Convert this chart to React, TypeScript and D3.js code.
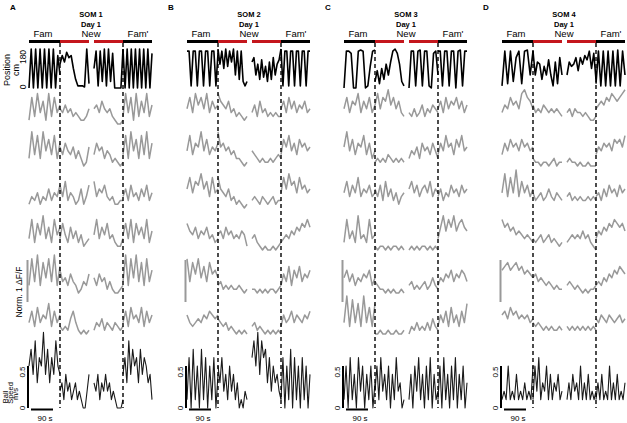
import React from 'react'
import * as d3 from 'd3'

// each trace = [Fam, New (1st half), New (2nd half), Fam']
// position in cm, speed in 0.1 m/s, dF/F in 0.1 norm. units

const posA = [
  [0, 180, 0, 180, 0, 180, 0, 180, 0, 180, 0, 180, 0, 150, 60],
  [110, 150, 120, 165, 140, 150, 90, 40, 10, 10, 10, 5, 180, 20],
  [90, 170, 10, 170, 30, 180, 10, 180, 30, 160, 0, 0, 0, 0, 180],
  [180, 0, 180, 0, 180, 0, 180, 0, 180, 0, 180, 0, 180, 0, 160],
]
const posB = [
  [170, 170, 10, 170, 170, 10, 170, 170, 10, 170, 170, 10, 170, 170, 10, 160],
  [180, 110, 170, 90, 180, 100, 170, 120, 180, 60, 170, 40, 170, 30, 10, 30],
  [120, 140, 60, 110, 40, 130, 50, 100, 30, 120, 40, 140, 60, 110, 130, 180],
  [180, 10, 170, 170, 10, 170, 170, 10, 170, 170, 10, 170, 170, 10, 170, 170],
]
const posC = [
  [0, 170, 170, 160, 0, 0, 170, 175, 170, 0, 10, 100, 170, 175],
  [30, 80, 20, 90, 40, 110, 60, 120, 170, 180, 160, 110, 30, 10],
  [0, 170, 170, 10, 170, 175, 10, 170, 170, 10, 0, 160, 170, 60],
  [170, 170, 10, 170, 170, 10, 170, 170, 0, 170, 175, 10, 170, 170],
]
const posD = [
  [10, 170, 20, 170, 30, 140, 170, 20, 170, 175, 60, 170],
  [170, 60, 120, 110, 40, 100, 60, 130, 60, 10, 120, 20, 140, 60],
  [60, 120, 100, 110, 140, 80, 140, 110, 150, 130, 170, 90, 160, 40],
  [20, 170, 10, 170, 10, 170, 10, 170, 10, 175, 10, 170, 60],
]

const dffA = [
  [[1, 7, 2, 8, 3, 6, 1, 8, 2, 7, 3, 5], [4, 3, 5, 3, 4, 2, 3, 2, 1, 1, 2, 4], [4, 5, 3, 6, 4, 3, 4, 2, 1, 0, 0, 1], [2, 8, 3, 7, 1, 8, 2, 6, 3, 8, 2, 5]],
  [[2, 9, 3, 8, 2, 9, 4, 7, 3, 8, 2, 6], [5, 3, 6, 4, 3, 5, 2, 4, 2, 0, 1, 5], [3, 6, 4, 5, 2, 4, 3, 1, 2, 1, 0, 1], [3, 8, 2, 9, 4, 7, 2, 8, 3, 9, 2, 6]],
  [[1, 3, 2, 4, 1, 3, 2, 5, 2, 4, 3, 6], [6, 3, 7, 2, 4, 3, 1, 2, 5, 1, 3, 6], [7, 3, 5, 4, 6, 3, 2, 3, 1, 1, 2, 2], [3, 5, 2, 6, 3, 4, 2, 5, 3, 6, 2, 4]],
  [[3, 8, 2, 7, 4, 9, 3, 6, 2, 8, 4, 6], [3, 7, 4, 2, 6, 3, 5, 2, 4, 1, 2, 3], [4, 8, 3, 6, 4, 7, 3, 4, 2, 1, 1, 3], [4, 7, 3, 8, 2, 7, 4, 6, 3, 8, 2, 5]],
  [[2, 9, 3, 10, 2, 8, 4, 9, 3, 10, 2, 7], [6, 3, 4, 2, 5, 3, 2, 0, 1, 3, 2, 5], [4, 2, 5, 3, 4, 1, 3, 1, 0, 0, 1, 2], [3, 10, 2, 9, 4, 10, 3, 8, 2, 9, 3, 6]],
  [[3, 6, 2, 7, 3, 5, 4, 8, 2, 6, 3, 5], [2, 1, 2, 1, 4, 6, 3, 1, 0, 1, 0, 1], [1, 3, 2, 4, 1, 3, 2, 1, 3, 2, 1, 2], [3, 6, 2, 7, 4, 5, 3, 7, 2, 6, 3, 5]],
]
const dffB = [
  [[4, 7, 3, 8, 5, 7, 4, 8, 3, 6, 4, 5], [8, 6, 5, 4, 6, 3, 4, 2, 3, 2, 1, 2], [3, 5, 2, 6, 3, 4, 2, 3, 2, 3, 2, 2], [4, 6, 3, 7, 4, 6, 3, 5, 4, 6, 3, 4]],
  [[4, 8, 3, 6, 5, 9, 4, 7, 3, 5, 4, 6], [9, 5, 6, 4, 5, 3, 4, 2, 2, 1, 0, 1], [4, 3, 2, 1, 2, 1, 1, 2, 1, 2, 3, 2], [3, 7, 5, 8, 4, 6, 3, 7, 5, 6, 4, 5]],
  [[5, 8, 4, 7, 6, 9, 5, 7, 3, 8, 4, 5], [8, 5, 4, 3, 5, 2, 3, 1, 2, 1, 0, 1], [2, 3, 2, 1, 3, 2, 1, 2, 3, 1, 2, 2], [4, 8, 5, 9, 6, 7, 4, 8, 5, 6, 4, 5]],
  [[7, 5, 4, 6, 3, 5, 4, 6, 3, 4, 2, 3], [4, 5, 3, 6, 4, 5, 3, 4, 3, 5, 4, 1], [3, 4, 2, 1, 0, 1, 0, 0, 1, 0, 1, 2], [2, 3, 4, 3, 5, 4, 6, 5, 7, 6, 8, 6]],
  [[9, 3, 8, 5, 9, 4, 7, 3, 8, 5, 6, 4], [2, 3, 1, 2, 1, 2, 1, 1, 2, 1, 0, 1], [1, 1, 0, 1, 0, 1, 0, 1, 1, 0, 1, 2], [2, 5, 3, 7, 2, 6, 4, 7, 3, 5, 4, 6]],
  [[5, 3, 2, 3, 4, 3, 5, 4, 6, 5, 4, 5], [4, 3, 2, 3, 1, 2, 1, 0, 1, 0, 1, 0], [2, 3, 1, 2, 1, 0, 1, 0, 1, 0, 1, 0], [2, 5, 3, 4, 6, 3, 5, 4, 3, 5, 4, 6]],
]
const dffC = [
  [[4, 7, 3, 6, 5, 8, 3, 6, 4, 7, 3, 5], [5, 8, 4, 7, 6, 9, 5, 7, 4, 6, 3, 2], [3, 2, 4, 2, 3, 5, 2, 4, 3, 5, 4, 3], [4, 6, 3, 7, 4, 6, 5, 7, 4, 6, 3, 5]],
  [[5, 9, 4, 7, 3, 6, 5, 8, 3, 6, 2, 4], [1, 2, 1, 2, 1, 3, 2, 1, 2, 1, 2, 1], [2, 4, 3, 5, 2, 6, 4, 5, 3, 6, 4, 2], [3, 6, 4, 8, 5, 6, 3, 7, 5, 8, 4, 5]],
  [[4, 7, 3, 6, 4, 8, 3, 5, 4, 6, 3, 4], [5, 3, 6, 2, 7, 3, 5, 2, 4, 1, 3, 4], [5, 7, 4, 6, 3, 5, 6, 4, 7, 3, 5, 4], [3, 5, 2, 4, 3, 6, 4, 5, 3, 6, 4, 5]],
  [[2, 8, 3, 5, 2, 9, 3, 4, 2, 8, 3, 4], [1, 0, 1, 1, 0, 1, 0, 1, 1, 0, 1, 0], [0, 1, 0, 1, 0, 1, 1, 0, 1, 0, 1, 0], [3, 6, 9, 5, 8, 6, 9, 5, 7, 8, 6, 5]],
  [[4, 6, 3, 5, 2, 4, 3, 5, 4, 6, 2, 4], [3, 2, 1, 1, 0, 1, 0, 1, 0, 0, 1, 0], [2, 3, 1, 2, 1, 2, 3, 1, 2, 4, 2, 1], [2, 4, 3, 5, 4, 6, 3, 5, 4, 6, 5, 3]],
  [[3, 10, 2, 9, 3, 8, 2, 10, 3, 7, 2, 8], [0, 0, 1, 0, 0, 1, 0, 0, 1, 0, 0, 1], [0, 2, 1, 3, 1, 2, 1, 3, 1, 4, 2, 1], [2, 5, 3, 6, 2, 7, 3, 5, 2, 6, 3, 8]],
]
const dffD = [
  [[3, 5, 4, 7, 5, 6, 4, 8, 9, 7, 6, 4], [5, 3, 4, 3, 5, 4, 3, 4, 3, 4, 3, 2], [3, 4, 2, 4, 3, 3, 2, 3, 2, 1, 1, 2], [4, 5, 6, 5, 7, 6, 8, 7, 6, 7, 8, 9]],
  [[3, 6, 4, 7, 5, 6, 4, 7, 5, 6, 4, 5], [2, 1, 1, 0, 1, 1, 0, 1, 2, 0, 1, 1], [1, 2, 1, 1, 0, 1, 0, 0, 1, 0, 0, 0], [3, 5, 4, 6, 5, 6, 4, 7, 6, 7, 5, 8]],
  [[4, 9, 3, 8, 4, 10, 3, 7, 4, 6, 3, 5], [4, 2, 3, 4, 2, 3, 5, 3, 2, 4, 3, 2], [3, 4, 2, 3, 2, 3, 2, 2, 3, 2, 3, 2], [3, 4, 2, 5, 3, 6, 4, 5, 3, 6, 4, 5]],
  [[8, 6, 7, 5, 6, 4, 5, 4, 3, 4, 3, 2], [3, 2, 3, 4, 2, 3, 4, 2, 3, 2, 1, 2], [2, 3, 4, 3, 4, 3, 5, 3, 4, 2, 1, 0], [3, 5, 4, 6, 5, 7, 6, 8, 7, 6, 7, 5]],
  [[6, 7, 8, 6, 7, 8, 6, 7, 5, 6, 5, 4], [4, 5, 3, 4, 3, 2, 3, 2, 1, 2, 1, 1], [2, 3, 2, 1, 2, 1, 0, 1, 0, 1, 1, 2], [2, 3, 2, 4, 3, 5, 4, 6, 5, 7, 6, 5]],
  [[5, 6, 4, 7, 5, 6, 4, 5, 4, 5, 3, 4], [3, 2, 3, 2, 1, 2, 1, 2, 1, 1, 2, 1], [2, 1, 2, 1, 2, 1, 2, 1, 2, 1, 2, 1], [4, 3, 5, 4, 3, 5, 4, 3, 4, 5, 3, 4]],
]

const speedA = [
  [5, 7, 4, 8, 3, 6, 5, 9, 4, 7, 3, 6, 4, 8, 5, 4],
  [2, 3, 1, 4, 2, 3, 1, 2, 3, 1, 2, 1, 0, 0, 2, 4],
  [3, 2, 4, 1, 3, 2, 4, 2, 3, 1, 2, 1, 0, 0, 0, 1],
  [4, 6, 3, 8, 4, 7, 5, 6, 3, 7, 4, 6, 5, 3, 4, 1],
]
const speedB = [
  [1, 6, 0, 7, 1, 5, 0, 7, 1, 6, 0, 5, 1, 6, 0, 4],
  [5, 3, 6, 2, 4, 1, 5, 2, 4, 1, 3, 0, 1, 0, 2, 1],
  [6, 8, 5, 9, 4, 8, 6, 7, 3, 6, 2, 5, 3, 4, 2, 1],
  [1, 6, 0, 5, 1, 7, 0, 6, 1, 5, 0, 6, 1, 5, 0, 4],
]
const speedC = [
  [1, 5, 0, 6, 1, 4, 0, 6, 2, 5, 0, 4, 1, 5, 0, 3],
  [2, 5, 1, 6, 2, 4, 1, 5, 0, 4, 1, 6, 2, 3, 0, 1],
  [1, 4, 0, 5, 2, 6, 1, 4, 0, 5, 1, 6, 0, 4, 1, 2],
  [1, 5, 0, 6, 1, 4, 0, 5, 1, 6, 0, 4, 1, 5, 0, 3],
]
const speedD = [
  [1, 2, 1, 5, 1, 2, 1, 4, 1, 2, 1, 3, 1, 2, 1, 5],
  [1, 5, 2, 6, 1, 3, 2, 5, 1, 4, 1, 3, 2, 4, 1, 2],
  [1, 3, 1, 4, 2, 3, 1, 5, 1, 3, 1, 4, 1, 2, 1, 2],
  [1, 3, 1, 4, 1, 2, 1, 5, 1, 3, 1, 4, 1, 2, 1, 3],
]

const letters = ['A', 'B', 'C', 'D']
const titles = ['SOM 1', 'SOM 2', 'SOM 3', 'SOM 4']
const envLabels = ['Fam', 'New', "Fam'"]
const panelX = [29, 187, 344, 502]
const positions = [posA, posB, posC, posD]
const dffs = [dffA, dffB, dffC, dffD]
const speeds = [speedA, speedB, speedC, speedD]

// segment spans (px inside a panel)
const segs = [[0, 31], [31, 60], [65, 94], [94, 123]]
const baselines = [124, 166, 208, 250, 293, 334]

const yPos = d3.scaleLinear().domain([0, 180]).range([88, 49])
const ySpeed = d3.scaleLinear().domain([0, 5]).range([408, 366])

const font = 'Arial, "Liberation Sans", Helvetica, sans-serif'

function segPath(vals: number[], x0: number, s: number[], y: d3.ScaleLinear<number, number>) {
  const x = d3.scaleLinear().domain([0, vals.length - 1]).range([x0 + s[0], x0 + s[1]])
  return d3.line<number>().x((d, i) => x(i)).y(d => y(d))(vals) || ''
}

function Panel({ i }: { i: number }) {
  const x0 = panelX[i]
  return (
    <g>
      <text x={x0 - 19} y={10} fontSize={8} fontWeight="bold">{letters[i]}</text>
      <text x={x0 + 62} y={17} fontSize={7.5} fontWeight="bold" textAnchor="middle">{titles[i]}</text>
      <text x={x0 + 62} y={26.5} fontSize={7.5} fontWeight="bold" textAnchor="middle">Day 1</text>
      <text x={x0 + 14} y={37} fontSize={9.5} textAnchor="middle">{envLabels[0]}</text>
      <text x={x0 + 62} y={37} fontSize={9.5} textAnchor="middle">{envLabels[1]}</text>
      <text x={x0 + 109} y={37} fontSize={9.5} textAnchor="middle">{envLabels[2]}</text>
      {segs.map((s, k) => (
        <rect key={k} x={x0 + s[0]} y={40} width={s[1] - s[0]} height={3}
          fill={k === 0 || k === 3 ? '#000' : '#c4161c'} />
      ))}

      {dffs[i].map((tr, t) => {
        const y = d3.scaleLinear().domain([0, 10]).range([baselines[t], baselines[t] - 38])
        return tr.map((seg, k) => (
          <path key={t + '-' + k} d={segPath(seg, x0, segs[k], y)} fill="none"
            stroke="#999" strokeWidth={1.5} strokeLinejoin="round" />
        ))
      })}

      {positions[i].map((seg, k) => (
        <path key={'p' + k} d={segPath(seg, x0, segs[k], yPos)} fill="none"
          stroke="#000" strokeWidth={1.6} strokeLinejoin="round" />
      ))}

      {speeds[i].map((seg, k) => (
        <path key={'s' + k} d={segPath(seg, x0, segs[k], ySpeed)} fill="none"
          stroke="#1a1a1a" strokeWidth={1.1} strokeLinejoin="round" />
      ))}

      {[segs[1][0], segs[3][0]].map((dx, k) => (
        <line key={'d' + k} x1={x0 + dx} x2={x0 + dx} y1={43} y2={408}
          stroke="#000" strokeWidth={1.4} strokeDasharray="4,3" />
      ))}

      {/* dF/F scale bar */}
      <line x1={x0 - 1.5} x2={x0 - 1.5} y1={260} y2={302} stroke="#999" strokeWidth={2} />

      {/* speed axis */}
      <line x1={x0 - 1} x2={x0 - 1} y1={ySpeed(5)} y2={ySpeed(0)} stroke="#000" strokeWidth={2} />
      <text transform={`translate(${x0 - 4},${ySpeed(5) + 6}) rotate(-90)`} fontSize={8} textAnchor="middle">0.5</text>
      <text transform={`translate(${x0 - 4},${ySpeed(0)}) rotate(-90)`} fontSize={8} textAnchor="middle">0</text>
      <line x1={x0 + 2} x2={x0 + 24} y1={409.5} y2={409.5} stroke="#000" strokeWidth={2} />
      <text x={x0 + 16} y={421} fontSize={8} textAnchor="middle">90 s</text>
    </g>
  )
}

export default function App() {
  return (
    <svg width={627} height={423} style={{ position: 'absolute', left: 0, top: 0, background: '#fff' }}
      fontFamily={font}>
      {letters.map((_, i) => <Panel key={i} i={i} />)}
      {/* left axis labels, panel A only */}
      <text transform="translate(10,70) rotate(-90)" fontSize={9} textAnchor="middle">Position</text>
      <text transform="translate(19,70) rotate(-90)" fontSize={9} textAnchor="middle">cm</text>
      <text transform={`translate(26,${yPos(180) + 8}) rotate(-90)`} fontSize={8.5} textAnchor="middle">180</text>
      <text transform={`translate(26,${yPos(0) - 1}) rotate(-90)`} fontSize={8.5} textAnchor="middle">0</text>
      <text transform="translate(22,292) rotate(-90)" fontSize={8.5} textAnchor="middle">Norm. 1 ΔF/F</text>
      <text transform="translate(8,397) rotate(-90)" fontSize={7.5} textAnchor="middle">Ball</text>
      <text transform="translate(13,393) rotate(-90)" fontSize={7.5} textAnchor="middle">Speed</text>
      <text transform="translate(18,394) rotate(-90)" fontSize={7.5} textAnchor="middle">m/s</text>
    </svg>
  )
}
